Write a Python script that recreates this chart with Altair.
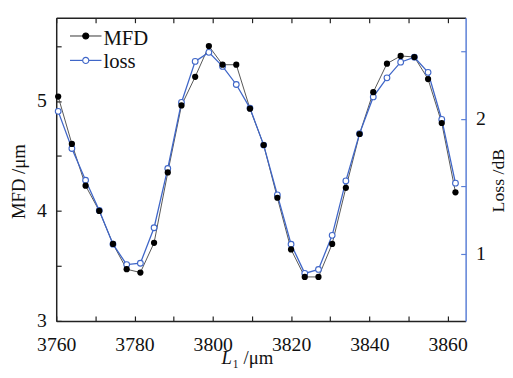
import altair as alt
import pandas as pd

# ---- data ----
L1 = [3760.5, 3764, 3767.5, 3771, 3774.5, 3778, 3781.5, 3785, 3788.5, 3792,
      3795.5, 3799, 3802.5, 3806, 3809.5, 3813, 3816.5, 3820, 3823.5, 3827,
      3830.5, 3834, 3837.5, 3841, 3844.5, 3848, 3851.5, 3855, 3858.5, 3862]
MFD = [5.04, 4.61, 4.23, 4.00, 3.70, 3.47, 3.44, 3.71, 4.35, 4.96,
       5.22, 5.50, 5.33, 5.33, 4.93, 4.60, 4.12, 3.65, 3.40, 3.40,
       3.70, 4.21, 4.70, 5.08, 5.34, 5.41, 5.40, 5.20, 4.80, 4.17]
LOSS = [2.056, 1.781, 1.546, 1.322, 1.072, 0.921, 0.931, 1.194, 1.633, 2.122,
        2.426, 2.493, 2.389, 2.255, 2.080, 1.806, 1.437, 1.072, 0.856, 0.885,
        1.138, 1.541, 1.891, 2.163, 2.304, 2.420, 2.457, 2.345, 1.996, 1.524]

x_ticks = [3760, 3770, 3780, 3790, 3800, 3810, 3820, 3830, 3840, 3850, 3860]
mfd_ticks = [3, 3.5, 4, 4.5, 5, 5.5]
loss_ticks = [1, 1.5, 2, 2.5]
legend_names = ["MFD", "loss"]
x_title_parts = ["L", "₁ /μm"]

df = pd.DataFrame({"L": L1, "MFD": MFD, "loss": LOSS})

FONT = "Liberation Serif"
BLUE = "#3f66c8"
AXBLUE = "#5a7fd6"
INWARD = {"expr": "-5"}
LBL = 20
INT_ONLY = "floor(datum.value) === datum.value ? ('' + datum.value) : ''"

xs = alt.Scale(domain=[3760, 3864.6], nice=False, zero=False)
ys_mfd = alt.Scale(domain=[3, 5.757], nice=False, zero=False)
ys_loss = alt.Scale(domain=[0.504, 2.749], nice=False, zero=False)

bottom_axis = alt.Axis(orient="bottom", values=x_ticks, tickCount=50,
                       labelExpr="datum.value % 20 === 0 ? ('' + datum.value) : ''",
                       tickSize=INWARD, tickColor="#222", tickWidth=1.2,
                       domainColor="#222", domainWidth=1.5, grid=False,
                       labelFont=FONT, labelFontSize=LBL, labelColor="#111",
                       labelPadding=19, labelOverlap=False,
                       labelFlush=False, title=None)
top_axis = alt.Axis(orient="top", values=x_ticks, labels=False, tickCount=50,
                    tickSize=INWARD, tickColor="#222", tickWidth=1.2,
                    domainColor="#222", domainWidth=1.5, grid=False, title=None)
left_axis = alt.Axis(orient="left", values=mfd_ticks, tickCount=50,
                     labelExpr=INT_ONLY,
                     tickSize=INWARD, tickColor="#222", tickWidth=1.2,
                     domainColor="#222", domainWidth=1.5, grid=False,
                     labelFont=FONT, labelFontSize=LBL, labelColor="#111",
                     labelPadding=15, labelOverlap=False,
                     title="MFD /μm", titleFont=FONT, titleFontSize=19,
                     titleFontWeight="normal", titleColor="#111",
                     titleAngle=270, titleX=-38, titleY=166,
                     titleAlign="center", titleBaseline="middle")
right_axis = alt.Axis(orient="right", values=loss_ticks, tickCount=50,
                      labelExpr=INT_ONLY,
                      tickSize=INWARD, tickColor=AXBLUE, tickWidth=1.2,
                      domainColor=AXBLUE, domainWidth=1.5, grid=False,
                      labelFont=FONT, labelFontSize=LBL, labelColor="#111",
                      labelPadding=15, labelOverlap=False,
                      title="Loss /dB", titleFont=FONT, titleFontSize=18,
                      titleFontWeight="normal", titleColor="#111",
                      titleAngle=270, titleX=33, titleY=165,
                      titleAlign="center", titleBaseline="middle")

base = alt.Chart(df)

mfd_line = base.mark_line(color="#555555", strokeWidth=1).encode(
    x=alt.X("L:Q", scale=xs, axis=bottom_axis),
    y=alt.Y("MFD:Q", scale=ys_mfd, axis=left_axis),
)
loss_line = base.mark_line(color=BLUE, strokeWidth=1.3).encode(
    x=alt.X("L:Q", scale=xs, axis=top_axis),
    y=alt.Y("loss:Q", scale=ys_loss, axis=right_axis),
)
loss_pts = base.mark_point(shape="circle", filled=True, fill="white", stroke=BLUE,
                           strokeWidth=1.1, size=34, opacity=1).encode(
    x=alt.X("L:Q", scale=xs, axis=None),
    y=alt.Y("loss:Q", scale=ys_loss, axis=None),
)
mfd_pts = base.mark_circle(color="black", size=40, opacity=1).encode(
    x=alt.X("L:Q", scale=xs, axis=None),
    y=alt.Y("MFD:Q", scale=ys_mfd, axis=None),
)

# ---- legend (top-left, inside the plot) ----
leg_df = pd.DataFrame({"name": legend_names})
leg_layers = []
rows = [(18.5, 27.5, "#555555", "black", "black"), (43.3, 51, BLUE, BLUE, "white")]
for name, (ym, yt, lc, sc, fc) in zip(legend_names, rows):
    d = alt.Chart(leg_df).transform_filter(alt.datum.name == name)
    leg_layers.append(d.mark_rule(color=lc, strokeWidth=1.2).encode(
        x=alt.value(14), x2=alt.value(46), y=alt.value(ym)))
    leg_layers.append(d.mark_point(shape="circle", filled=True, fill=fc,
                                   stroke=sc, strokeWidth=1.1,
                                   size=38, opacity=1).encode(
        x=alt.value(30), y=alt.value(ym)))
    leg_layers.append(d.mark_text(align="left", baseline="alphabetic",
                                  font=FONT, fontSize=21, color="#111").encode(
        x=alt.value(48), y=alt.value(yt), text="name:N"))

# ---- x-axis title with italic L ----
xt_df = pd.DataFrame({"part": x_title_parts})
xt_italic = alt.Chart(xt_df).transform_filter(alt.datum.part == x_title_parts[0]).mark_text(
    align="left", baseline="alphabetic", font=FONT, fontSize=19,
    fontStyle="italic", color="#111").encode(
    x=alt.value(168), y=alt.value(352), text="part:N")
xt_rest = alt.Chart(xt_df).transform_filter(alt.datum.part == x_title_parts[1]).mark_text(
    align="left", baseline="alphabetic", font=FONT, fontSize=19,
    color="#111").encode(
    x=alt.value(179), y=alt.value(352), text="part:N")

chart = alt.layer(mfd_line, loss_line, loss_pts, mfd_pts, *leg_layers,
                  xt_italic, xt_rest).resolve_scale(
    y="independent"
).resolve_axis(
    x="independent", y="independent"
).properties(
    width=416, height=308,
    padding={"left": 49, "top": 7, "right": 40, "bottom": 50},
    autosize=alt.AutoSizeParams(type="none"),
    background="white",
).configure_view(strokeWidth=0)

chart.save("out.html", embed_options={"renderer": "svg", "actions": False})
